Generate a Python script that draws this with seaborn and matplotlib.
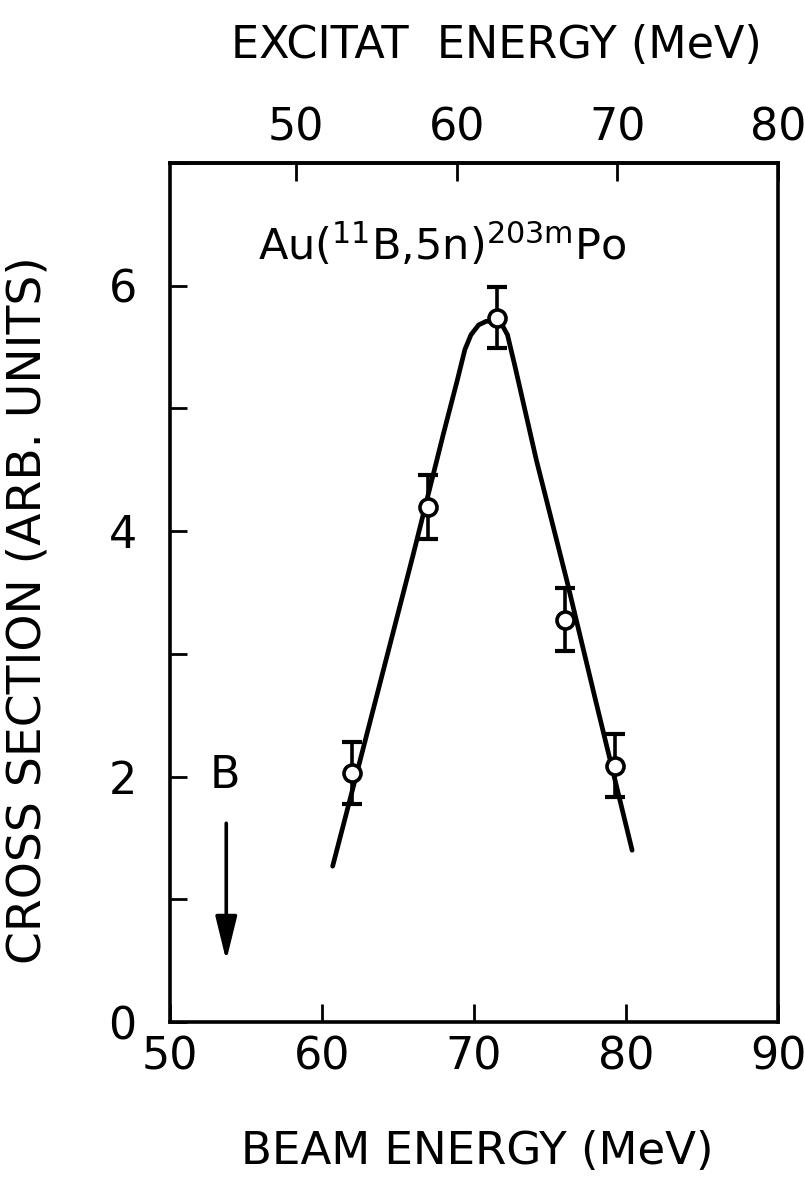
import matplotlib
matplotlib.use("Agg")
import matplotlib.pyplot as plt
import seaborn as sns
import pandas as pd

# measured points (beam energy, cross section, error)
beam_pts = [62.0, 67.0, 71.5, 76.0, 79.3]
cs_pts = [2.03, 4.20, 5.74, 3.28, 2.09]
cs_err = [0.25, 0.26, 0.25, 0.26, 0.26]

# hand-drawn guide curve
curve_beam = [60.7, 62.0, 64.0, 66.0, 68.0, 68.9, 69.4, 69.8, 70.3, 70.8,
              71.3, 71.8, 72.2, 72.7, 74.1, 76.1, 78.0, 80.4]
curve_cs = [1.27, 1.89, 2.85, 3.81, 4.80, 5.23, 5.48, 5.60, 5.68, 5.71,
            5.71, 5.69, 5.60, 5.34, 4.58, 3.60, 2.62, 1.40]

beam_ticks = [50, 60, 70, 80, 90]
excit_ticks = [50, 60, 70, 80]
cs_ticks = [0, 1, 2, 3, 4, 5, 6, 7]
cs_ticklabels = ["0", "", "2", "", "4", "", "6", ""]

# E* = E_cm + Q  (Au target, 11B beam)
CM_FACTOR = 0.947
Q_VALUE = -5.22

sns.set_style("ticks")
plt.rcParams["font.family"] = ["DejaVu Sans"]
for key in ["text.color", "axes.labelcolor", "xtick.color", "ytick.color",
            "axes.edgecolor"]:
    plt.rcParams[key] = "black"

fig = plt.figure(figsize=(8.05, 11.81), dpi=100)
ax = fig.add_axes([0.2112, 0.1346, 0.7553, 0.7274])

curve = pd.DataFrame({"beam": curve_beam, "cs": curve_cs})
sns.lineplot(data=curve, x="beam", y="cs", sort=False, estimator=None,
             color="black", lw=3.4, ax=ax, zorder=2)

ax.errorbar(beam_pts, cs_pts, yerr=cs_err, fmt="none", ecolor="black",
            elinewidth=2.6, capsize=7, capthick=3.0, zorder=3)
pts = pd.DataFrame({"beam": beam_pts, "cs": cs_pts})
sns.scatterplot(data=pts, x="beam", y="cs", marker="o", s=150,
                facecolor="white", edgecolor="black", linewidth=2.6,
                ax=ax, zorder=4)

ax.set_xlim(50, 90)
ax.set_ylim(0, 7)
ax.set_xticks(beam_ticks)
ax.set_yticks(cs_ticks)
ax.set_yticklabels(cs_ticklabels)

for side in ax.spines.values():
    side.set_linewidth(2.6)
ax.tick_params(axis="x", direction="in", length=13, width=2.0,
               labelsize=32, pad=10)
ax.tick_params(axis="y", direction="in", length=12, width=2.0,
               labelsize=32, pad=24)

top = ax.secondary_xaxis("top", functions=(lambda b: CM_FACTOR * b + Q_VALUE,
                                           lambda e: (e - Q_VALUE) / CM_FACTOR))
top.set_xticks(excit_ticks)
top.tick_params(direction="in", length=13, width=2.0, labelsize=32, pad=10)
top.spines["top"].set_linewidth(2.6)

ax.set_xlabel("BEAM ENERGY (MeV)", fontsize=32.5, va="center")
ax.xaxis.set_label_coords(0.505, -0.151)
ax.set_ylabel("CROSS SECTION (ARB. UNITS)", fontsize=34, va="center")
ax.yaxis.set_label_coords(-0.233, 0.48)
ax.text(0.537, 1.137, "EXCITAT  ENERGY (MeV)", transform=ax.transAxes,
        fontsize=32, ha="center", va="center")

ax.text(67.9, 6.33, r"Au($^{11}$B,5n)$^{203\mathrm{m}}$Po", fontsize=31,
        ha="center", va="center")

ax.text(53.6, 2.01, "B", fontsize=32, ha="center", va="center")
ax.annotate("", xy=(53.7, 0.5), xytext=(53.7, 1.62),
            arrowprops=dict(arrowstyle="-|>,head_length=0.9,head_width=0.22",
                            mutation_scale=30, lw=2.6, color="black",
                            shrinkA=0, shrinkB=0))

fig.savefig("out.png", dpi=100)
